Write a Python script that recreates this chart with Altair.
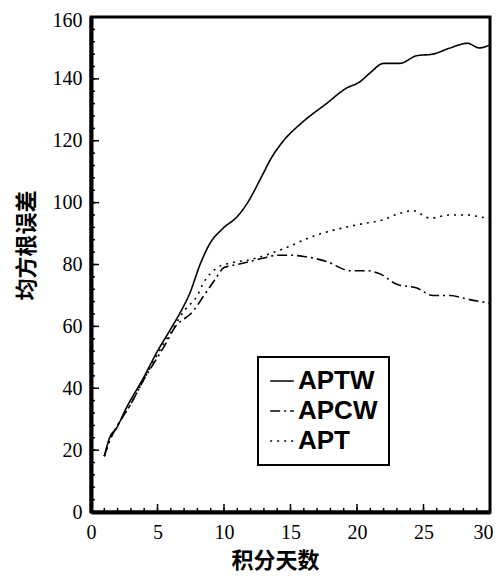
import altair as alt
import pandas as pd

series_names = ["APTW", "APCW", "APT"]

aptw_x = [1, 1.4, 1.9, 2.7, 3.9, 5, 5.9, 6.9, 7.4, 8.2, 8.9, 9.9, 11.0, 11.7, 12.9, 13.5, 14.4, 15.9, 17.7, 19.2, 20.2, 21, 22, 23.2, 24.5, 25.7, 27, 28.3, 29.2, 30]
aptw_y = [18, 24, 27, 34, 43, 52, 58.5, 66, 70.4, 80, 86.5, 91.6, 95.5, 99.5, 109, 114, 119.6, 126, 132, 137, 139, 142, 145, 145, 147.5, 148, 150, 151.5, 150, 151]

apcw_x = [1, 1.4, 2, 3, 4, 5, 5.7, 6.2, 7.7, 8.5, 9.3, 10, 11, 12, 12.9, 14, 15, 16, 17.7, 19.5, 20.7, 21.7, 23, 24.5, 25.7, 27, 28.3, 30]
apcw_y = [18, 23, 28, 35, 43, 50, 55, 59, 65, 70, 75, 79, 80, 81, 82, 83, 83, 82.6, 81, 78, 78, 77, 73.6, 72.4, 70, 70, 68.8, 67.5]

apt_x = [1, 1.5, 2, 3, 4, 5, 6, 7, 8, 8.4, 9.5, 10.5, 12, 14.4, 17, 18.7, 20.2, 22, 23.2, 24.2, 25.5, 27, 28.3, 29.5, 30]
apt_y = [18, 24, 28, 35, 43, 51, 58, 65, 70, 73.6, 79, 80.5, 81.6, 85, 89.6, 91.6, 93, 94.5, 96.5, 97.4, 95, 96, 96, 95.2, 95]

x_major = [0, 5, 10, 15, 20, 25, 30]
x_minor = list(range(0, 31))
y_major = [0, 20, 40, 60, 80, 100, 120, 140, 160]
y_minor = list(range(0, 161, 4))

rows = []
for name, xs, ys in [("APTW", aptw_x, aptw_y), ("APCW", apcw_x, apcw_y), ("APT", apt_x, apt_y)]:
    for x, y in zip(xs, ys):
        rows.append({"day": x, "rmse": y, "series": name})
df = pd.DataFrame(rows)

W, H = 399, 495
xsc = alt.Scale(domain=[0, 30], nice=False)
ysc = alt.Scale(domain=[0, 160], nice=False)

common = dict(ticks=False, grid=False, labelFlush=False,
              labelFont="Liberation Serif", labelFontSize=20, labelColor="black",
              titleFont="Noto Sans CJK SC", titleFontSize=22, titleFontWeight="bold",
              titleColor="black", domainColor="black", domainWidth=4)
x_axis = alt.Axis(
    title="积分天数", values=x_major, labelPadding=10, labelBaseline="top",
    labelAlign=alt.ConditionalAxisLabelAlign(
        condition={"test": "datum.value >= 30", "value": "right"}, value="center"),
    labelOffset=alt.ConditionalAxisNumber(
        condition={"test": "datum.value >= 30", "value": 3}, value=0),
    titleX=184, titleY=48, titleAlign="center", titleBaseline="middle", **common)
y_axis = alt.Axis(
    title="均方根误差", values=y_major, labelPadding=9,
    labelOffset=alt.ConditionalAxisNumber(
        condition={"test": "datum.value >= 160", "value": 3}, value=0),
    titleX=-65, titleY=228, titleAngle=270, titleAlign="center", titleBaseline="middle", **common)

lines = alt.Chart(df).mark_line(color="black", strokeWidth=1.6, interpolate="monotone").encode(
    x=alt.X("day:Q", scale=xsc, axis=x_axis),
    y=alt.Y("rmse:Q", scale=ysc, axis=y_axis),
    strokeDash=alt.StrokeDash("series:N", scale=alt.Scale(
        domain=series_names, range=[[1, 0], [10, 4, 2, 4], [2, 5]]),
        legend=alt.Legend(title=None, orient="none", legendX=167, legendY=340,
                          symbolType="stroke", symbolSize=560, symbolStrokeWidth=1.5,
                          symbolStrokeColor="black", labelFontSize=26,
                          labelFont="Liberation Sans", labelFontWeight="bold",
                          labelColor="black", labelOffset=3, padding=11,
                          rowPadding=4, strokeColor="black")),
)

xmaj = alt.Chart(pd.DataFrame({"v": x_major})).mark_rule(color="black", strokeWidth=1.5).encode(
    x=alt.X("v:Q", scale=xsc, axis=x_axis), y=alt.value(H), y2=alt.value(H - 8))
xmin = alt.Chart(pd.DataFrame({"v": x_minor})).mark_rule(color="black", strokeWidth=1.5).encode(
    x=alt.X("v:Q", scale=xsc, axis=x_axis), y=alt.value(H), y2=alt.value(H - 4))
ymaj = alt.Chart(pd.DataFrame({"v": y_major})).mark_rule(color="black", strokeWidth=1.5).encode(
    y=alt.Y("v:Q", scale=ysc, axis=y_axis), x=alt.value(0), x2=alt.value(8))
ymin = alt.Chart(pd.DataFrame({"v": y_minor})).mark_rule(color="black", strokeWidth=1.5).encode(
    y=alt.Y("v:Q", scale=ysc, axis=y_axis), x=alt.value(0), x2=alt.value(4))

chart = alt.layer(lines, xmaj, xmin, ymaj, ymin).properties(
    width=W, height=H,
    autosize=alt.AutoSizeParams(type="none"),
    padding={"left": 83, "top": 9, "right": 3, "bottom": 60},
).configure_view(
    stroke="black", strokeWidth=3
).configure_legend(
    strokeWidth=2
)

chart.save("out.html", embed_options={"renderer": "svg", "actions": False})
